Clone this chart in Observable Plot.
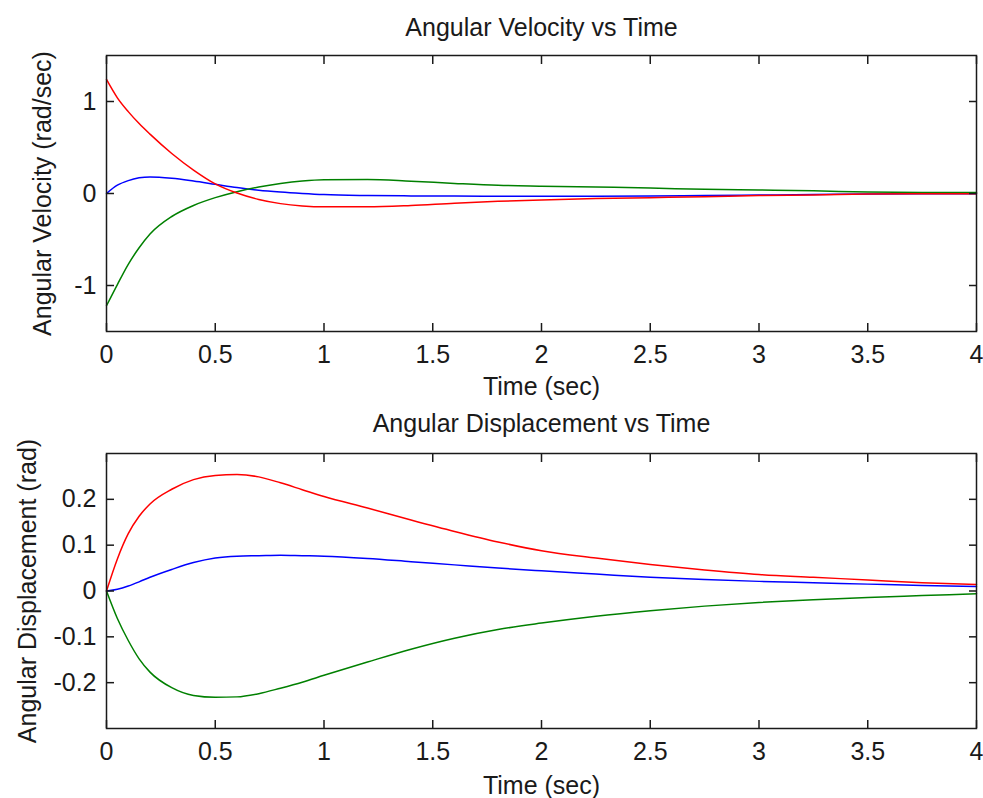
<!DOCTYPE html>
<html>
<head>
<meta charset="utf-8">
<script src="https://cdn.jsdelivr.net/npm/d3@7"></script>
<script src="https://cdn.jsdelivr.net/npm/@observablehq/plot@0.6"></script>
<style>
html, body { margin: 0; padding: 0; background: #fff; }
#chart svg { display: block; }
</style>
</head>
<body>
<div id="chart"></div>
<script>
// ---- data ----
const time = [0, 0.05, 0.1, 0.15, 0.2, 0.3, 0.4, 0.5, 0.6, 0.7, 0.8, 0.9, 1.0, 1.2, 1.4, 1.6, 1.8, 2.0, 2.25, 2.5, 2.75, 3.0, 3.25, 3.5, 3.75, 4.0];

const velRed   = [1.24, 1.04, 0.89, 0.76, 0.645, 0.435, 0.255, 0.105, 0.005, -0.065, -0.11, -0.135, -0.145, -0.145, -0.13, -0.105, -0.085, -0.07, -0.055, -0.045, -0.035, -0.022, -0.016, -0.006, -0.003, -0.002];
const velGreen = [-1.22, -0.99, -0.77, -0.59, -0.44, -0.25, -0.13, -0.045, 0.02, 0.07, 0.108, 0.135, 0.149, 0.152, 0.133, 0.11, 0.09, 0.08, 0.07, 0.06, 0.045, 0.038, 0.03, 0.015, 0.01, 0.01];
const velBlue  = [0.0, 0.09, 0.14, 0.17, 0.18, 0.165, 0.135, 0.10, 0.065, 0.035, 0.015, 0.0, -0.012, -0.022, -0.026, -0.028, -0.029, -0.03, -0.03, -0.028, -0.022, -0.017, -0.012, -0.006, -0.003, -0.002];

const dispRed   = [0, 0.07, 0.125, 0.163, 0.19, 0.222, 0.243, 0.252, 0.254, 0.249, 0.236, 0.221, 0.206, 0.181, 0.155, 0.13, 0.107, 0.088, 0.072, 0.058, 0.046, 0.036, 0.03, 0.024, 0.018, 0.014];
const dispGreen = [0, -0.06, -0.108, -0.148, -0.177, -0.211, -0.228, -0.232, -0.231, -0.224, -0.212, -0.199, -0.184, -0.155, -0.127, -0.103, -0.084, -0.07, -0.055, -0.043, -0.033, -0.025, -0.019, -0.014, -0.01, -0.006];
const dispBlue  = [0, 0.004, 0.011, 0.02, 0.03, 0.047, 0.062, 0.072, 0.076, 0.077, 0.078, 0.077, 0.076, 0.071, 0.064, 0.057, 0.05, 0.044, 0.037, 0.03, 0.025, 0.021, 0.018, 0.015, 0.012, 0.01];

const seriesNames = ["blue", "green", "red"];
const seriesColors = ["rgb(35,35,125)", "rgb(45,115,55)", "rgb(185,60,60)"];

const xTicks = [0, 0.5, 1, 1.5, 2, 2.5, 3, 3.5, 4];
const velTicks = [-1, 0, 1];
const dispTicks = [-0.2, -0.1, 0, 0.1, 0.2];

const velTitle = "Angular Velocity vs Time";
const dispTitle = "Angular Displacement vs Time";
const velYLabel = "Angular Velocity (rad/sec)";
const dispYLabel = "Angular Displacement (rad)";
const xLabel = "Time (sec)";

function makePlot(cfg) {
  const data = [];
  cfg.series.forEach((vals, k) => {
    time.forEach((t, i) => data.push({t, v: vals[i], name: seriesNames[k]}));
  });
  const ink = "#1a1a1a";
  return Plot.plot({
    width: 983,
    height: cfg.height,
    marginLeft: 106,
    marginRight: 7,
    marginTop: cfg.marginTop,
    marginBottom: cfg.marginBottom,
    style: {fontFamily: "'Liberation Sans', Arial, sans-serif", fontSize: "25px", color: ink, background: "#fff"},
    x: {domain: [0, 4]},
    y: {domain: cfg.yDomain},
    color: {domain: seriesNames, range: seriesColors},
    marks: [
      Plot.lineY(data, {x: "t", y: "v", z: "name", stroke: "name", strokeWidth: 1.5, curve: "monotone-x"}),
      Plot.frame({stroke: ink, strokeWidth: 1.5}),
      Plot.axisX({anchor: "bottom", ticks: xTicks, tickSize: -8, tickFormat: () => "", label: null, stroke: ink, strokeWidth: 1.5}),
      Plot.axisX({anchor: "top", ticks: xTicks, tickSize: -8, tickFormat: () => "", label: null, stroke: ink, strokeWidth: 1.5}),
      Plot.axisY({anchor: "left", ticks: cfg.yTicks, tickSize: -8, tickFormat: () => "", label: null, stroke: ink, strokeWidth: 1.5}),
      Plot.axisY({anchor: "right", ticks: cfg.yTicks, tickSize: -8, tickFormat: () => "", label: null, stroke: ink, strokeWidth: 1.5}),
      Plot.axisX({anchor: "bottom", ticks: xTicks, tickSize: 0, tickPadding: 14, tickFormat: d => String(d), label: null}),
      Plot.axisY({anchor: "left", ticks: cfg.yTicks, tickSize: 0, tickPadding: 10, tickFormat: d => String(d), label: null}),
      Plot.text([cfg.title], {text: d => d, frameAnchor: "top", lineAnchor: "bottom", dy: cfg.titleDy}),
      Plot.text([xLabel], {text: d => d, frameAnchor: "bottom", lineAnchor: "bottom", dy: cfg.xLabelDy}),
      Plot.text([cfg.yLabel], {text: d => d, frameAnchor: "left", textAnchor: "middle", lineAnchor: "middle", rotate: -90, dx: cfg.yLabelDx})
    ]
  });
}

const velChart = makePlot({
  title: velTitle, yLabel: velYLabel, yDomain: [-1.5, 1.5], yTicks: velTicks,
  series: [velBlue, velGreen, velRed],
  height: 400, marginTop: 55, marginBottom: 69, titleDy: -20, xLabelDy: 63, yLabelDx: -64
});
const dispChart = makePlot({
  title: dispTitle, yLabel: dispYLabel, yDomain: [-0.3, 0.3], yTicks: dispTicks,
  series: [dispBlue, dispGreen, dispRed],
  height: 398, marginTop: 53, marginBottom: 70, titleDy: -22, xLabelDy: 65, yLabelDx: -79
});
document.getElementById("chart").append(velChart, dispChart);
</script>
</body>
</html>
